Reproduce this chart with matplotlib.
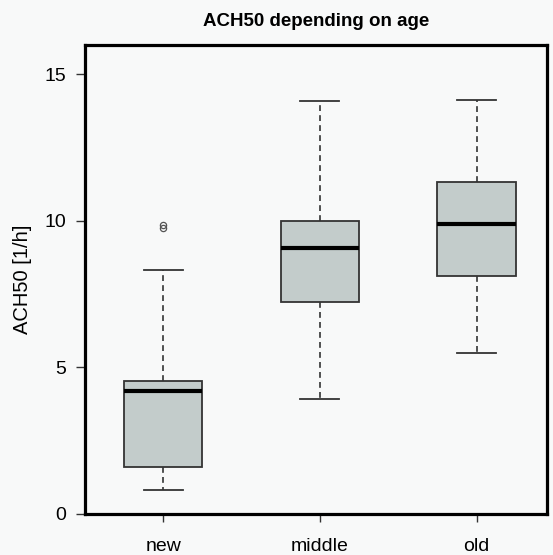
import matplotlib.pyplot as plt
import numpy as np

plt.rcParams['font.family'] = ['Liberation Sans', 'DejaVu Sans']

# values
groups = ['new', 'middle', 'old']
whisker_low = [0.83, 3.93, 5.48]
q1 = [1.61, 7.22, 8.11]
medians = [4.19, 9.09, 9.91]
q3 = [4.53, 10.0, 11.33]
whisker_high = [8.34, 14.08, 14.11]
outliers = [[9.77, 9.85], [], []]

stats = []
for i, g in enumerate(groups):
    stats.append(dict(label=g, whislo=whisker_low[i], q1=q1[i], med=medians[i],
                      q3=q3[i], whishi=whisker_high[i], fliers=outliers[i]))

bg = '#f8f9f9'
fig = plt.figure(figsize=(5.53, 5.55), dpi=100, facecolor=bg)
ax = fig.add_axes([85/553, 1-514/555, (547-85)/553, (514-45)/555])
ax.set_facecolor(bg)

ax.bxp(stats, positions=[1, 2, 3], widths=0.5, patch_artist=True,
       boxprops=dict(facecolor='#c3cccb', edgecolor='#333333', linewidth=1.3),
       medianprops=dict(color='black', linewidth=3),
       whiskerprops=dict(color='#333333', linestyle=(0, (3.5, 2.5)), linewidth=1.2),
       capprops=dict(color='#333333', linewidth=1.3),
       capwidths=0.25,
       flierprops=dict(marker='o', markersize=4.5, markerfacecolor='none',
                       markeredgecolor='#555555', markeredgewidth=0.9))

ax.set_xlim(0.5, 3.45)
ax.set_ylim(0, 16)
ax.set_yticks([0, 5, 10, 15])
ax.set_xticks([1, 2, 3])
ax.set_xticklabels(groups)
for s in ax.spines.values():
    s.set_linewidth(2.3)
    s.set_color('black')
ax.tick_params(axis='y', labelsize=14, length=6.5, width=1, pad=7, color='#333333')
ax.tick_params(axis='x', labelsize=14, length=6, width=1, pad=11, color='#333333')

ax.set_ylabel('ACH50 [1/h]', fontsize=14.5, labelpad=9)
ax.set_title('ACH50 depending on age', fontsize=13.5, fontweight='bold', pad=14)

plt.savefig('out.png', dpi=100, facecolor=bg)
